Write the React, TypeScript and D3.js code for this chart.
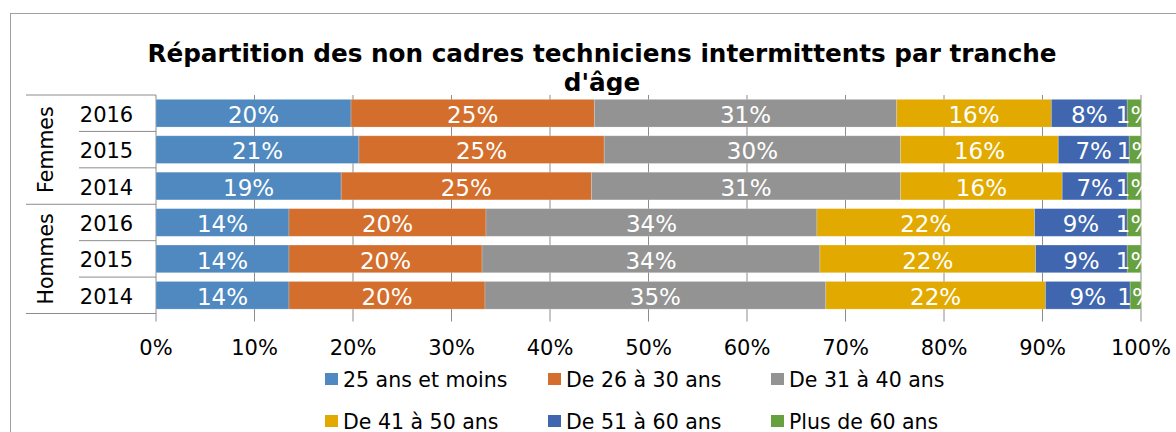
import * as d3 from 'd3';

// rows, top to bottom
const groups = ['Femmes', 'Hommes'];
const years = ['2016', '2015', '2014'];

const ageBands = [
	'25 ans et moins',
	'De 26 à 30 ans',
	'De 31 à 40 ans',
	'De 41 à 50 ans',
	'De 51 à 60 ans',
	'Plus de 60 ans',
];
const bandColors = ['#4f89bf', '#d46e2c', '#939393', '#e2aa00', '#3f66ae', '#66a03f'];

// share (%) per row: F2016, F2015, F2014, H2016, H2015, H2014
const under25 = [19.8, 20.6, 18.8, 13.5, 13.5, 13.5];
const age26to30 = [24.7, 24.9, 25.4, 20.0, 19.6, 19.9];
const age31to40 = [30.7, 30.1, 31.4, 33.6, 34.3, 34.6];
const age41to50 = [15.7, 16.0, 16.4, 22.1, 21.9, 22.3];
const age51to60 = [7.7, 7.2, 6.6, 9.4, 9.3, 8.6];
const over60 = [1.4, 1.2, 1.4, 1.4, 1.4, 1.1];

const seriesValues = [under25, age26to30, age31to40, age41to50, age51to60, over60];

const titleLines = ['Répartition des non cadres techniciens intermittents par tranche', "d'âge"];

const W = 1176;
const H = 432;
const FONT = "'DejaVu Sans', Verdana, sans-serif";
const LINE = '#8c8c8c';

export default function App() {
	const rowKeys = groups.flatMap((g) => years.map((y) => `${g}-${y}`));

	// table for d3.stack
	const table = rowKeys.map((key, i) => {
		const row: Record<string, number | string> = { key };
		ageBands.forEach((b, j) => {
			row[b] = seriesValues[j][i] / 100;
		});
		return row;
	});
	const stacked = d3.stack<any>().keys(ageBands)(table);

	const x = d3.scaleLinear().domain([0, 1]).range([156, 1141]);
	const y = d3.scaleBand<string>().domain(rowKeys).range([95, 313.5]).paddingInner(0.24).paddingOuter(0.12);
	const step = y.step();
	const plotTop = y.range()[0];
	const plotBottom = y.range()[1];
	const ticks = x.ticks(10);
	const fmt = d3.format('.0%');

	const groupTop = (g: string) => (y(`${g}-${years[0]}`) ?? 0) - (step * 0.24) / 2;
	const groupBottom = (g: string) => (y(`${g}-${years[years.length - 1]}`) ?? 0) + y.bandwidth() + (step * 0.24) / 2;

	const legendCols = 3;
	const legendX = (i: number) => 325 + (i % legendCols) * 223;
	const legendY = (i: number) => (Math.floor(i / legendCols) === 0 ? 379 : 421);

	return (
		<svg width={W} height={H} style={{ position: 'absolute', left: 0, top: 0, background: '#fff' }} fontFamily={FONT}>
			{/* chart frame */}
			<rect x={10.5} y={13.5} width={1300} height={600} fill="#fff" stroke="#a0a0a0" />

			{/* title */}
			<text textAnchor="middle" fontWeight="bold" fontSize={24.7} fill="#000">
				{titleLines.map((t, i) => (
					<tspan key={i} x={602} y={61.5 + i * 29.5}>
						{t}
					</tspan>
				))}
			</text>

			{/* plot area */}
			<rect x={x(0)} y={plotTop} width={x(1) - x(0)} height={plotBottom - plotTop} fill="#fff" />

			{/* gridlines and outward ticks */}
			{ticks.map((t) => (
				<line key={t} x1={x(t)} x2={x(t)} y1={plotTop} y2={plotBottom + 8} stroke={LINE} strokeWidth={1} />
			))}

			{/* category axis separators */}
			<line x1={26} x2={x(0)} y1={plotTop} y2={plotTop} stroke={LINE} />
			{groups.map((g) => (
				<line key={g} x1={26} x2={x(0)} y1={groupBottom(g)} y2={groupBottom(g)} stroke={LINE} />
			))}
			{groups.flatMap((g) =>
				years.slice(1).map((yr) => {
					const yy = (y(`${g}-${yr}`) ?? 0) - (step * 0.24) / 2;
					return <line key={`${g}-${yr}`} x1={79} x2={x(0)} y1={yy} y2={yy} stroke={LINE} />;
				})
			)}

			{/* bars */}
			{stacked.map((s, j) => (
				<g key={s.key} fill={bandColors[j]}>
					{s.map((d, i) => (
						<rect
							key={i}
							x={x(d[0])}
							y={y(rowKeys[i])}
							width={x(d[1]) - x(d[0])}
							height={y.bandwidth()}
							stroke="#ffffff"
							strokeOpacity={0.25}
							strokeWidth={0.8}
						/>
					))}
				</g>
			))}

			{/* data labels */}
			{stacked.map((s, j) => (
				<g key={s.key} fill="#fff" fontSize={23} textAnchor="middle">
					{s.map((d, i) => (
						<text key={i} x={(x(d[0]) + x(d[1])) / 2} y={(y(rowKeys[i]) ?? 0) + y.bandwidth() / 2 + 1.5} dy="0.36em">
							{Math.round(seriesValues[j][i])}%
						</text>
					))}
				</g>
			))}

			{/* year labels */}
			{rowKeys.map((k) => (
				<text key={k} x={106.5} y={(y(k) ?? 0) + y.bandwidth() / 2 + 1} dy="0.36em" textAnchor="middle" fontSize={21} fill="#000">
					{k.split('-')[1]}
				</text>
			))}

			{/* group labels */}
			{groups.map((g) => {
				const cy = (groupTop(g) + groupBottom(g)) / 2;
				return (
					<text key={g} transform={`translate(52.5,${cy}) rotate(-90)`} textAnchor="middle" fontSize={20.5} fill="#000">
						{g}
					</text>
				);
			})}

			{/* x axis tick labels */}
			{ticks.map((t) => (
				<text key={t} x={x(t)} y={354.5} textAnchor="middle" fontSize={21} fill="#000">
					{fmt(t)}
				</text>
			))}

			{/* legend */}
			{ageBands.map((b, i) => (
				<g key={b} transform={`translate(${legendX(i)},${legendY(i)})`}>
					<rect x={0} y={-6} width={13} height={12} fill={bandColors[i]} />
					<text x={18} y={7.5} fontSize={20.5} fill="#000">
						{b}
					</text>
				</g>
			))}
		</svg>
	);
}
